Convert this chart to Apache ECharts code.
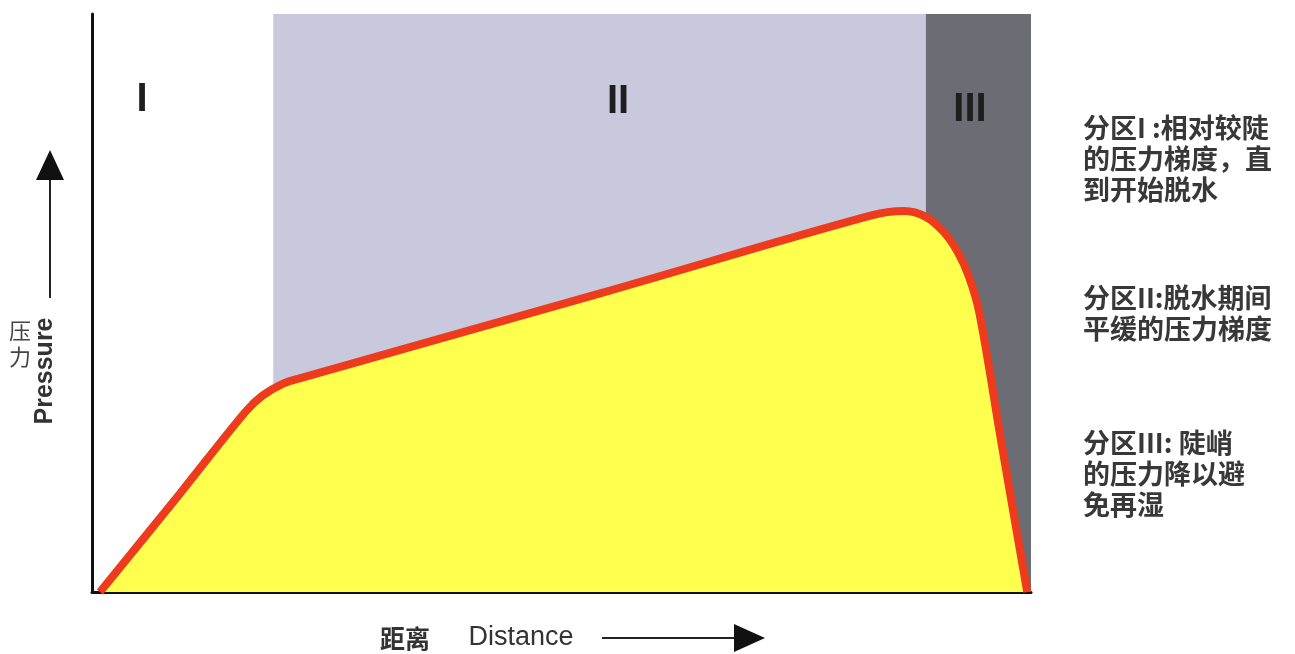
<!DOCTYPE html>
<html>
<head>
<meta charset="utf-8">
<title>压力 - 距离</title>
<script src="https://cdn.jsdelivr.net/npm/echarts@6/dist/echarts.min.js"></script>
<style>
  html, body { margin: 0; padding: 0; background: #fff; }
  #main { width: 1295px; height: 654px; }
</style>
</head>
<body>
<div id="main"></div>
<script>
// 曲线数据：距离 (0-100) 与 压力 (0-100)
var distance = [0.85, 9.4, 16.3, 18.1, 20.3, 22.2, 54.2, 82.9, 86.5, 88.8, 90.7, 92.2, 93.4, 94.5, 96.8, 99.6];
var pressure = [0, 17.1, 31.1, 33.9, 36.0, 37.0, 51.7, 65.1, 65.9, 64.9, 62.3, 58.8, 54.5, 48.3, 26.3, 0];

// 分区边界
var zoneNames = ['I', 'II', 'III'];
var zoneStart = [0, 19.3, 88.8];
var zoneEnd = [19.3, 88.8, 100];
var zoneColors = ['rgba(0,0,0,0)', '#c9c9dd', '#6c6c74'];

// 右侧说明文字
var notes = [
  ['分区I :相对较陡', '的压力梯度，直', '到开始脱水'],
  ['分区II:脱水期间', '平缓的压力梯度'],
  ['分区III: 陡峭', '的压力降以避', '免再湿']
];
var noteTop = [128, 298, 443];

var lineData = distance.map(function (d, i) { return [d, pressure[i]]; });

var areas = zoneNames.map(function (n, i) {
  return [{ xAxis: zoneStart[i], yAxis: 0, itemStyle: { color: zoneColors[i] } },
          { xAxis: zoneEnd[i], yAxis: 100 }];
});

var graphics = [];
// 分区编号
var labelX = [142, 618, 970];
var labelY = [100, 102, 110];
zoneNames.forEach(function (n, i) {
  graphics.push({
    type: 'text', x: labelX[i], y: labelY[i], z: 100,
    style: { text: n, fill: '#1e1e1e', font: 'bold 40px "Liberation Sans", Arial, sans-serif',
      align: 'center', verticalAlign: 'middle' }
  });
});
// 说明
notes.forEach(function (block, b) {
  block.forEach(function (line, j) {
    graphics.push({
      type: 'text', x: 1083, y: noteTop[b] + j * 31, z: 100,
      style: { text: line, fill: '#383838', font: 'bold 27px "Noto Sans CJK SC", sans-serif',
        align: 'left', verticalAlign: 'middle' }
    });
  });
});
// 纵轴标题和箭头
graphics.push(
  { type: 'text', x: 20, y: 331, z: 100, style: { text: '压', fill: '#444', font: '22px "Noto Sans CJK SC", sans-serif', align: 'center', verticalAlign: 'middle' } },
  { type: 'text', x: 20, y: 357, z: 100, style: { text: '力', fill: '#444', font: '22px "Noto Sans CJK SC", sans-serif', align: 'center', verticalAlign: 'middle' } },
  { type: 'text', x: 45, y: 371, z: 100, rotation: Math.PI / 2,
    style: { text: 'Pressure', fill: '#333', font: 'bold 25px "Liberation Sans", Arial, sans-serif', align: 'center', verticalAlign: 'middle' } },
  { type: 'line', z: 100, shape: { x1: 50, y1: 298, x2: 50, y2: 175 }, style: { stroke: '#222', lineWidth: 2 } },
  { type: 'polygon', z: 100, shape: { points: [[50, 150], [36, 180], [64, 180]] }, style: { fill: '#111' } },
  // 横轴标题和箭头
  { type: 'text', x: 405, y: 638, z: 100, style: { text: '距离', fill: '#333', font: 'bold 25px "Noto Sans CJK SC", sans-serif', align: 'center', verticalAlign: 'middle' } },
  { type: 'text', x: 521, y: 638, z: 100, style: { text: 'Distance', fill: '#333', font: '27px "Liberation Sans", Arial, sans-serif', align: 'center', verticalAlign: 'middle' } },
  { type: 'line', z: 100, shape: { x1: 602, y1: 638, x2: 740, y2: 638 }, style: { stroke: '#222', lineWidth: 2 } },
  { type: 'polygon', z: 100, shape: { points: [[765, 638], [734, 624], [734, 652]] }, style: { fill: '#111' } }
);

var myChart = echarts.init(document.getElementById('main'));
var option = {
  animation: false,
  grid: { left: 92, right: 264, top: 14, bottom: 62 },
  xAxis: {
    type: 'value', min: 0, max: 100,
    axisLine: { show: true, lineStyle: { color: '#111', width: 3 } },
    axisTick: { show: false }, axisLabel: { show: false }, splitLine: { show: false }
  },
  yAxis: {
    type: 'value', min: 0, max: 100,
    axisLine: { show: true, lineStyle: { color: '#111', width: 3 } },
    axisTick: { show: false }, axisLabel: { show: false }, splitLine: { show: false }
  },
  series: [
    {
      // 背景分区
      type: 'line', z: 1, data: [], silent: true,
      markArea: { silent: true, data: areas }
    },
    {
      type: 'line', z: 3, data: lineData,
      smooth: 0.35, symbol: 'none',
      lineStyle: { color: '#ee3b1d', width: 8, join: 'round' },
      areaStyle: { color: '#ffff4e', opacity: 1 }
    }
  ],
  graphic: graphics
};
myChart.setOption(option);
</script>
</body>
</html>
